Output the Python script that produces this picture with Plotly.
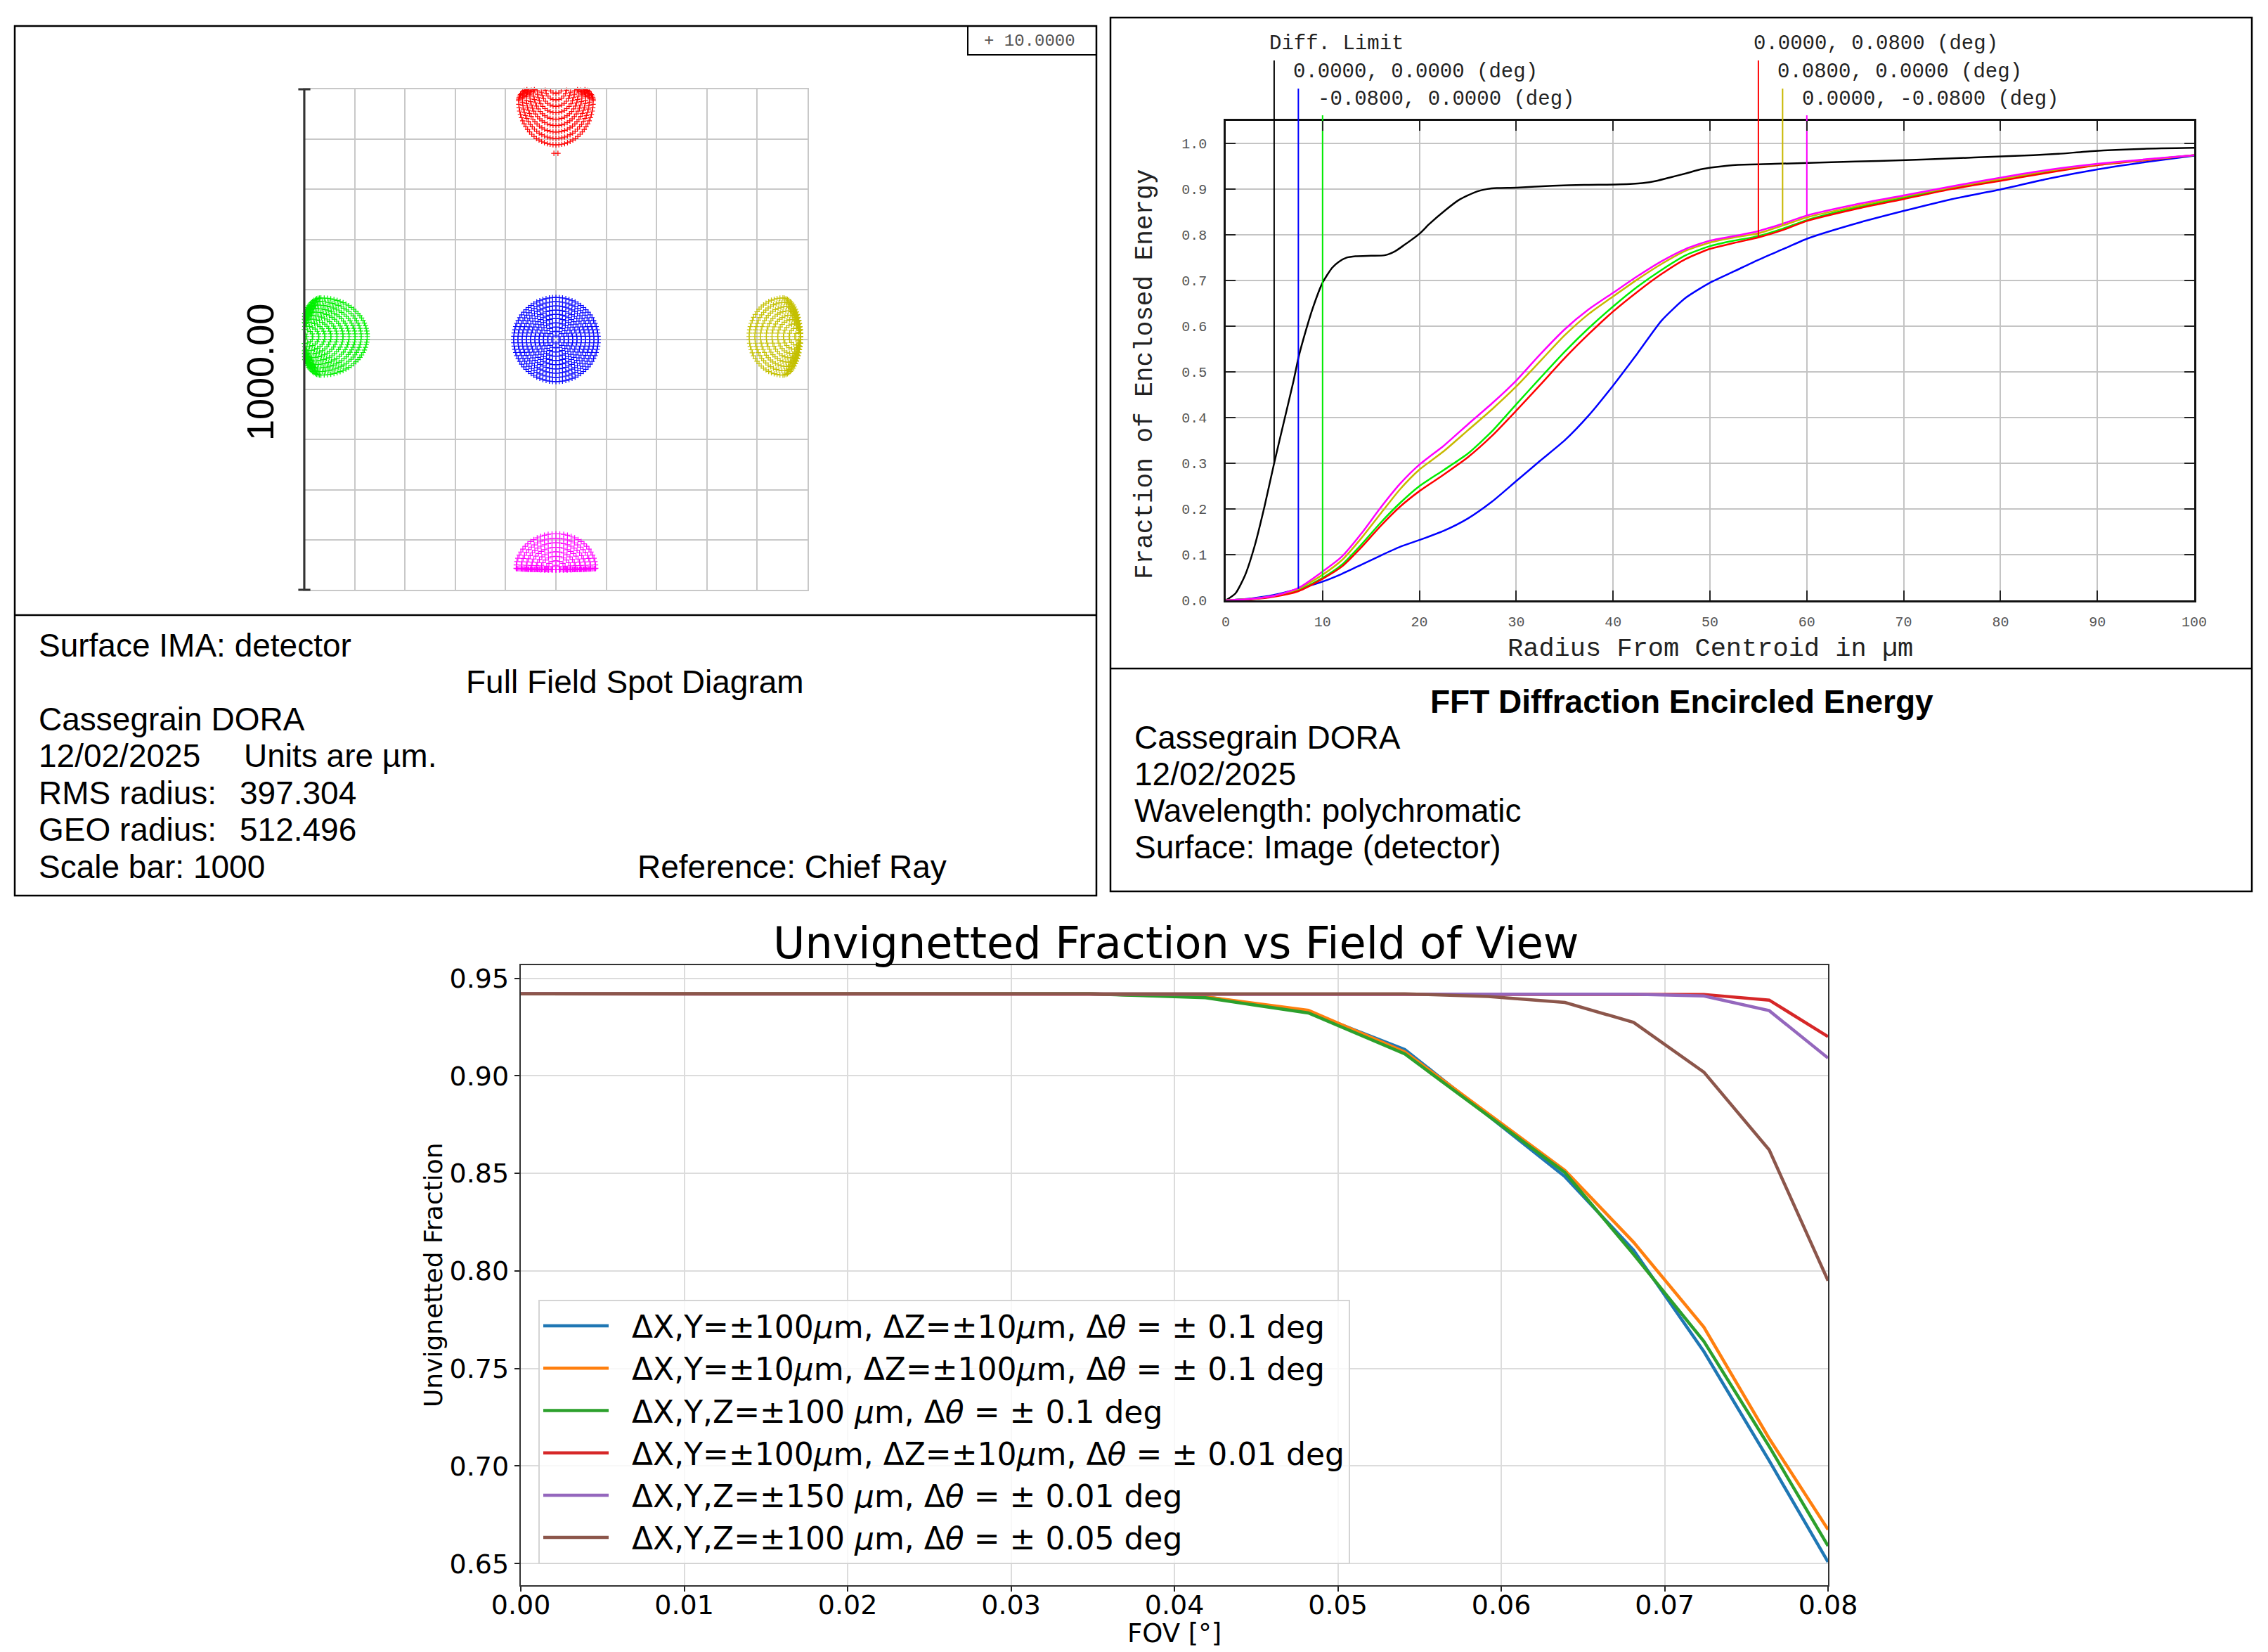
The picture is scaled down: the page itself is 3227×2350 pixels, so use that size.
import numpy as np
import plotly.graph_objects as go

# ======================= DATA =======================
# --- Full field spot diagram (units: µm) ---
spot_fields = ["0.0000, 0.0000", "-0.0800, 0.0000", "0.0000, 0.0800", "0.0800, 0.0000", "0.0000, -0.0800"]
spot_colors = ["#0000ff", "#00f000", "#ff0000", "#c4c000", "#ff00ff"]
# reference point of each spot pattern (tangent point / centre) in µm
spot_origin_x = [0, -507, 0, 486, 0]
spot_origin_y = [0, 6, 517, 6, -460]
# direction in which the nested rings open (deg)
spot_open_deg = [0, 0, 270, 180, 90]
# outer-ring geometry (µm): centre shift, back extent, front extent, side half-width
spot_shift = [0, 40, 40, 35, 3]
spot_back = [84, 40, 40, 35, 3]
spot_front = [84, 92, 88, 67, 69]
spot_side = [84, 77, 74, 77, 79]
spot_rings = [10, 11, 10, 9, 8]
red_chief_x = [-4, 4]
red_chief_y = [372, 372]
scale_bar = 1000.0
wavelength_label = "10.0000"

# --- FFT diffraction encircled energy ---
ee_radius = [0, 2.5, 5, 7.5, 10, 12, 14, 16, 18, 20, 22.5, 25, 27.5, 30, 32.5, 35, 37.5, 40,
             42.5, 45, 47.5, 50, 52.5, 55, 57.5, 60, 65, 70, 75, 80, 85, 90, 95, 100]
ee_f00 = [0, 0.004, 0.012, 0.025, 0.041, 0.058, 0.078, 0.098, 0.117, 0.132, 0.152, 0.179, 0.216,
          0.261, 0.306, 0.350, 0.405, 0.470, 0.540, 0.612, 0.662, 0.695, 0.720, 0.745, 0.768,
          0.791, 0.824, 0.852, 0.878, 0.899, 0.923, 0.943, 0.959, 0.973]
ee_fm80 = [0, 0.003, 0.009, 0.022, 0.049, 0.078, 0.122, 0.170, 0.213, 0.250, 0.285, 0.321, 0.370,
           0.429, 0.487, 0.544, 0.596, 0.643, 0.686, 0.723, 0.755, 0.775, 0.787, 0.797, 0.813,
           0.832, 0.859, 0.881, 0.902, 0.920, 0.938, 0.953, 0.964, 0.974]
ee_f0p80 = [0, 0.002, 0.008, 0.020, 0.047, 0.074, 0.116, 0.163, 0.205, 0.239, 0.275, 0.313, 0.360,
            0.415, 0.472, 0.530, 0.583, 0.632, 0.675, 0.714, 0.747, 0.769, 0.782, 0.794, 0.810,
            0.830, 0.856, 0.878, 0.900, 0.918, 0.936, 0.952, 0.963, 0.974]
ee_f80 = [0, 0.003, 0.010, 0.025, 0.056, 0.088, 0.136, 0.190, 0.243, 0.286, 0.326, 0.372, 0.418,
          0.468, 0.524, 0.580, 0.627, 0.665, 0.702, 0.736, 0.765, 0.783, 0.794, 0.803, 0.820,
          0.838, 0.862, 0.884, 0.904, 0.922, 0.940, 0.954, 0.964, 0.974]
ee_f0m80 = [0, 0.003, 0.010, 0.027, 0.063, 0.096, 0.146, 0.203, 0.255, 0.297, 0.338, 0.385, 0.431,
            0.481, 0.539, 0.593, 0.637, 0.673, 0.709, 0.742, 0.769, 0.787, 0.797, 0.808, 0.824,
            0.842, 0.866, 0.886, 0.906, 0.925, 0.942, 0.955, 0.965, 0.974]
diff_radius = [0, 1, 2, 3, 4, 5, 6, 7, 7.5, 8, 9, 10, 11, 11.7, 12.5, 13.4, 15, 16.4, 17.5, 18.4,
               20, 21, 22.7, 24, 25, 26, 27, 28, 30, 33.8, 37, 40.7, 43, 44.5, 46, 47.5, 49, 50.5,
               52.9, 56.7, 61.3, 65, 69.7, 75, 79.6, 83.4, 86, 89.5, 94.8, 100]
diff_ee = [0, 0.015, 0.055, 0.12, 0.205, 0.30, 0.39, 0.48, 0.53, 0.57, 0.64, 0.695, 0.728, 0.741,
           0.750, 0.753, 0.754, 0.755, 0.764, 0.777, 0.802, 0.823, 0.854, 0.875, 0.886, 0.895,
           0.900, 0.902, 0.903, 0.907, 0.909, 0.910, 0.913, 0.918, 0.926, 0.934, 0.943, 0.948,
           0.953, 0.955, 0.958, 0.960, 0.963, 0.967, 0.971, 0.974, 0.977, 0.983, 0.988, 0.990]
ee_labels = ["Diff. Limit", "0.0000, 0.0000 (deg)", "-0.0800, 0.0000 (deg)",
             "0.0000, 0.0800 (deg)", "0.0800, 0.0000 (deg)", "0.0000, -0.0800 (deg)"]
ee_label_radius = [5, 7.5, 10, 55, 57.5, 60]
ee_label_row = [0, 1, 2, 0, 1, 2]
ee_colors = ["#000000", "#0000ff", "#00ee00", "#ff0000", "#c8b800", "#ff00ff"]

# --- Unvignetted fraction vs FOV ---
fov = [0.0, 0.0348, 0.0419, 0.0482, 0.0541, 0.0592, 0.0639, 0.0681, 0.0724, 0.0764, 0.08]
vig_1 = [0.942, 0.942, 0.9405, 0.9328, 0.9135, 0.8795, 0.8483, 0.8106, 0.7587, 0.7027, 0.6508]
vig_2 = [0.942, 0.942, 0.9405, 0.9336, 0.9122, 0.8806, 0.8515, 0.8147, 0.7712, 0.7141, 0.6674]
vig_3 = [0.942, 0.942, 0.9400, 0.9322, 0.9112, 0.8796, 0.8504, 0.8085, 0.7639, 0.7100, 0.6590]
vig_4 = [0.942, 0.942, 0.942, 0.942, 0.942, 0.942, 0.942, 0.9419, 0.9417, 0.9388, 0.9201]
vig_5 = [0.942, 0.942, 0.942, 0.942, 0.942, 0.942, 0.942, 0.9418, 0.9409, 0.9334, 0.9091]
vig_6 = [0.942, 0.942, 0.942, 0.942, 0.942, 0.9407, 0.9376, 0.9274, 0.9019, 0.8620, 0.7950]
vig_names = [
    "ΔX,Y=±100<i>μ</i>m, ΔZ=±10<i>μ</i>m, Δ<i>θ</i> = ± 0.1 deg",
    "ΔX,Y=±10<i>μ</i>m, ΔZ=±100<i>μ</i>m, Δ<i>θ</i> = ± 0.1 deg",
    "ΔX,Y,Z=±100 <i>μ</i>m, Δ<i>θ</i> = ± 0.1 deg",
    "ΔX,Y=±100<i>μ</i>m, ΔZ=±10<i>μ</i>m, Δ<i>θ</i> = ± 0.01 deg",
    "ΔX,Y,Z=±150 <i>μ</i>m, Δ<i>θ</i> = ± 0.01 deg",
    "ΔX,Y,Z=±100 <i>μ</i>m, Δ<i>θ</i> = ± 0.05 deg",
]
vig_colors = ["#1f77b4", "#ff7f0e", "#2ca02c", "#d62728", "#9467bd", "#8c564b"]
fov_ticks = [0.00, 0.01, 0.02, 0.03, 0.04, 0.05, 0.06, 0.07, 0.08]
vig_ticks = [0.65, 0.70, 0.75, 0.80, 0.85, 0.90, 0.95]

# ======================= LAYOUT HELPERS =======================
W, H = 3227, 2350
OFF = 8  # the page body margin shifts the figure by this many pixels
def px(x):
    return (x - OFF) / W
def py(y):
    return 1 - (y - OFF) / H

ZFONT = "Liberation Sans, Arial, sans-serif"
MFONT = "Liberation Mono, Courier New, monospace"
DFONT = "DejaVu Sans, sans-serif"

fig = go.Figure()

# ======================= SPOT DIAGRAM =======================
def ring_points(i):
    d = np.deg2rad(spot_open_deg[i])
    ux, uy = np.cos(d), np.sin(d)
    vx, vy = -uy, ux
    xs, ys = [], []
    n = spot_rings[i]
    for k in range(1, n + 1):
        q = k / n
        t = np.linspace(0, 2 * np.pi, 8 * k, endpoint=False)
        ct, st = np.cos(t), np.sin(t)
        u = spot_shift[i] * q + np.where(ct >= 0, spot_front[i] * q, spot_back[i] * q) * ct
        v = spot_side[i] * q * st
        xs.extend(spot_origin_x[i] + u * ux + v * vx)
        ys.extend(spot_origin_y[i] + u * uy + v * vy)
    return xs, ys

for i in range(len(spot_fields)):
    xs, ys = ring_points(i)
    fig.add_trace(go.Scatter(
        x=xs, y=ys, xaxis="x3", yaxis="y3", mode="markers", cliponaxis=False,
        showlegend=False, name=spot_fields[i],
        marker=dict(symbol="cross-thin", size=5.5, line=dict(width=1.2, color=spot_colors[i]))))
fig.add_trace(go.Scatter(
    x=red_chief_x, y=red_chief_y, xaxis="x3", yaxis="y3", mode="markers", cliponaxis=False,
    showlegend=False, marker=dict(symbol="cross-thin", size=5.5, line=dict(width=1.2, color=spot_colors[2]))))

# ======================= ENCIRCLED ENERGY =======================
ee_series = [diff_ee, ee_f00, ee_fm80, ee_f0p80, ee_f80, ee_f0m80]
ee_x = [diff_radius] + [ee_radius] * 5
for j in range(6):
    fig.add_trace(go.Scatter(
        x=ee_x[j], y=ee_series[j], xaxis="x2", yaxis="y2", mode="lines", showlegend=False,
        name=ee_labels[j], line=dict(color=ee_colors[j], width=2.5, shape="spline", smoothing=0.6)))
EE_TOP = 1.049
for j in range(6):
    yv = float(np.interp(ee_label_radius[j], ee_x[j], ee_series[j]))
    fig.add_trace(go.Scatter(
        x=[ee_label_radius[j], ee_label_radius[j]], y=[yv, EE_TOP], xaxis="x2", yaxis="y2",
        mode="lines", showlegend=False, hoverinfo="skip",
        line=dict(color=ee_colors[j], width=2)))

# ======================= VIGNETTING =======================
vig_series = [vig_1, vig_2, vig_3, vig_4, vig_5, vig_6]
for j in range(6):
    fig.add_trace(go.Scatter(
        x=fov, y=vig_series[j], mode="lines", name="\u00a0\u00a0" + vig_names[j],
        line=dict(color=vig_colors[j], width=4.5)))

# ======================= SHAPES =======================
shapes = []
def box(x0, y0, x1, y1, w=2.5):
    shapes.append(dict(type="rect", xref="paper", yref="paper", x0=px(x0), x1=px(x1),
                       y0=py(y1), y1=py(y0), line=dict(color="#000", width=w)))
def hline(x0, x1, y, w=2.5, color="#000"):
    shapes.append(dict(type="line", xref="paper", yref="paper", x0=px(x0), x1=px(x1),
                       y0=py(y), y1=py(y), line=dict(color=color, width=w)))

box(21, 37, 1560, 1274)
hline(21, 1560, 875)
box(1377, 37, 1560, 78, w=2)
box(1580, 25, 3204, 1268)
hline(1580, 3204, 951)

# scale bar on spot diagram
shapes.append(dict(type="line", xref="x3 domain", yref="y3 domain", x0=0, x1=0, y0=0, y1=1,
                   line=dict(color="#333", width=3)))
for yy in (0, 1):
    shapes.append(dict(type="line", xref="x3 domain", yref="y3 domain", x0=-0.012, x1=0.012,
                       y0=yy, y1=yy, line=dict(color="#333", width=3)))

# label leader lines above EE plot
row_top = [86, 126, 164]
for j in range(6):
    shapes.append(dict(type="line", xref="x2", yref="paper", x0=ee_label_radius[j],
                       x1=ee_label_radius[j], y0=py(172), y1=py(row_top[ee_label_row[j]]),
                       line=dict(color=ee_colors[j], width=2)))

# ======================= ANNOTATIONS =======================
ann = []
def text(x, y, s, size=46, family=ZFONT, anchor="left", color="#000", **kw):
    ann.append(dict(xref="paper", yref="paper", x=px(x), y=py(y), text=s, showarrow=False,
                    xanchor=anchor, yanchor="middle", font=dict(size=size, family=family, color=color), **kw))

# spot text box
text(53, 918, "Surface IMA: detector")
text(661, 970, "Full Field Spot Diagram")
text(53, 1023, "Cassegrain DORA")
text(53, 1075, "12/02/2025")
text(345, 1075, "Units are µm.")
text(53, 1128, "RMS radius:")
text(339, 1128, "397.304")
text(53, 1180, "GEO radius:")
text(339, 1180, "512.496")
text(53, 1233, "Scale bar: %d" % int(scale_bar))
text(905, 1233, "Reference: Chief Ray")
text(370, 530, "%.2f" % scale_bar, size=54, anchor="center", textangle=-90)
text(1398, 58, "+ " + wavelength_label, size=24, family=MFONT, color="#555")

# EE text box
text(2393, 998, "<b>FFT Diffraction Encircled Energy</b>", anchor="center")
text(1612, 1049, "Cassegrain DORA")
text(1612, 1101, "12/02/2025")
text(1612, 1153, "Wavelength: polychromatic")
text(1612, 1205, "Surface: Image (detector)")
text(1630, 533, "Fraction of Enclosed Energy", size=36, family=MFONT, anchor="center",
     color="#222", textangle=-90)
text(2433, 923, "Radius From Centroid in µm", size=37, family=MFONT, anchor="center", color="#222")
row_mid = [62, 102, 142]
for j in range(6):
    ann.append(dict(xref="x2", yref="paper", x=ee_label_radius[j], y=py(row_mid[ee_label_row[j]]),
                    text=ee_labels[j], showarrow=False, xanchor="left", yanchor="middle", xshift=-9,
                    font=dict(size=29, family=MFONT, color="#222")))

# vignetting titles
text(1673, 1341, "Unvignetted Fraction vs Field of View", size=62, family=DFONT, anchor="center")
text(616, 1814, "Unvignetted Fraction", size=36, family=DFONT, anchor="center", textangle=-90)
text(1671, 2323, "FOV [°]", size=37, family=DFONT, anchor="center")

# ======================= AXES =======================
spot_ax = dict(range=[-500, 500], dtick=100, tick0=-500, showgrid=True, gridcolor="#c8c8c8",
               gridwidth=2, zeroline=False, showticklabels=False, ticks="", showline=True,
               linecolor="#c8c8c8", linewidth=2, mirror=True, fixedrange=True)
ee_common = dict(showgrid=True, gridcolor="#c4c4c4", gridwidth=2, zeroline=False, ticks="inside",
                 ticklen=14, tickwidth=2, tickcolor="#222", showline=True, linecolor="#111",
                 linewidth=2.5, mirror="ticks", tickfont=dict(family=MFONT, size=20, color="#555"))
vig_common = dict(showgrid=True, gridcolor="#dcdcdc", gridwidth=2.2, zeroline=False, ticks="outside",
                  ticklen=7, tickwidth=2.4, tickcolor="#222", showline=True, linecolor="#333",
                  linewidth=2.4, mirror=True, tickfont=dict(family=DFONT, size=38, color="#000"))

fig.update_layout(
    width=W, height=H, margin=dict(l=0, r=0, t=0, b=0, pad=0, autoexpand=False),
    paper_bgcolor="white", plot_bgcolor="white",
    shapes=shapes, annotations=ann,
    xaxis=dict(domain=[px(741), px(2601)], range=[0, 0.08], tickvals=fov_ticks, tickformat=".2f",
               anchor="y", ticklabelstandoff=-14, **vig_common),
    yaxis=dict(domain=[py(2255), py(1373)], range=[0.6389, 0.9567], tickvals=vig_ticks,
               tickformat=".2f", anchor="x", **vig_common),
    xaxis2=dict(domain=[px(1744), px(3122)], range=[0, 100], dtick=10, tick0=0, anchor="y2",
                ticklabelstandoff=10, **ee_common),
    yaxis2=dict(domain=[py(854), py(172)], range=[0, EE_TOP], dtick=0.1, tick0=0, tickformat=".1f",
                anchor="x2", ticklabelstandoff=20, **ee_common),
    xaxis3=dict(domain=[px(433), px(1149)], anchor="y3", **spot_ax),
    yaxis3=dict(domain=[py(839), py(127)], anchor="x3", **spot_ax),
    legend=dict(x=px(766), y=py(1849), xanchor="left", yanchor="top", itemwidth=93,
                font=dict(family=DFONT, size=44, color="#000"),
                bgcolor="rgba(255,255,255,0.8)", bordercolor="#d4d4d4", borderwidth=2),
    showlegend=True,
)

fig.write_html("out.html")
